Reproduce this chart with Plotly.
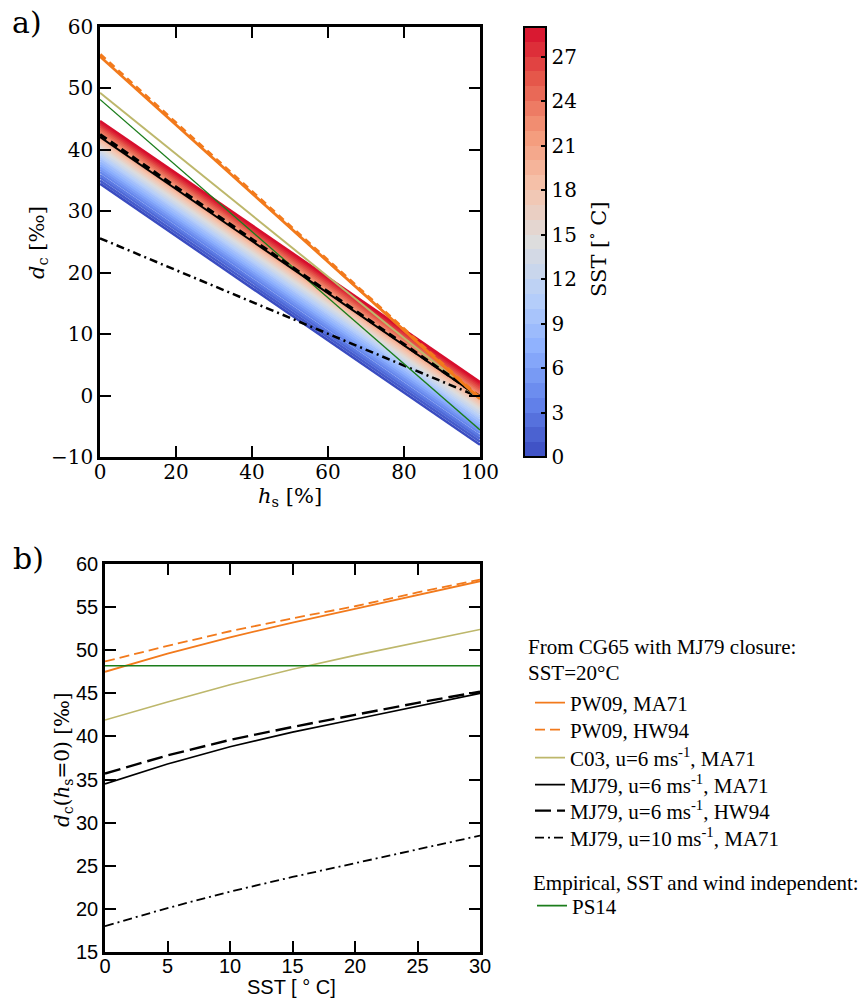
import numpy as np
import plotly.graph_objects as go
from plotly.colors import sample_colorscale

W, H = 868, 998

# ---------------- data ----------------
# panel a) : d_c vs h_s for SST levels (MJ79, u=6, MA71), endpoints at h_s = 0 and 100
sst_levels = list(range(0, 30))
band_dc_h0 = [34.5, 35.0, 35.5, 35.9, 36.4, 36.8, 37.2, 37.6, 38.0, 38.4,
              38.8, 39.1, 39.5, 39.8, 40.2, 40.5, 40.8, 41.1, 41.4, 41.7,
              42.0, 42.3, 42.6, 42.9, 43.2, 43.5, 43.8, 44.1, 44.4, 44.7]
band_dc_h100 = [-8.0, -7.5, -7.0, -6.6, -6.1, -5.7, -5.3, -4.9, -4.5, -4.1,
                -3.7, -3.4, -3.0, -2.7, -2.3, -2.0, -1.7, -1.4, -1.1, -0.8,
                -0.5, -0.2, 0.1, 0.4, 0.7, 1.0, 1.3, 1.6, 1.9, 2.2]
hs = [0, 100]
a_pw09_ma71 = [55.2, -0.5]
a_pw09_hw94 = [55.5, -0.4]
a_c03 = [49.3, -0.6]
a_ps14 = [48.2, -5.6]
a_mj79_u6_ma71 = [42.1, -0.3]
a_mj79_u6_hw94 = [42.5, -0.2]
a_mj79_u10_ma71 = [25.6, -0.3]

# panel b) : d_c(h_s=0) vs SST
sst_b = [0, 5, 10, 15, 20, 25, 30]
b_pw09_ma71 = [47.5, 49.6, 51.5, 53.2, 54.8, 56.4, 58.0]
b_pw09_hw94 = [48.7, 50.5, 52.2, 53.7, 55.1, 56.7, 58.2]
b_c03 = [41.9, 44.0, 46.0, 47.8, 49.4, 50.9, 52.4]
b_mj79_u6_ma71 = [34.5, 36.8, 38.8, 40.5, 42.0, 43.5, 45.0]
b_mj79_u6_hw94 = [35.7, 37.8, 39.6, 41.1, 42.5, 43.9, 45.2]
b_mj79_u10_ma71 = [18.0, 20.1, 22.0, 23.7, 25.3, 26.9, 28.5]
b_ps14 = [48.2, 48.2, 48.2, 48.2, 48.2, 48.2, 48.2]

cbar_ticks = [0, 3, 6, 9, 12, 15, 18, 21, 24, 27]
sst_max = 29

# ---------------- styles ----------------
anchors = [
    [0.0, "rgb(58,76,192)"], [0.125, "rgb(98,130,234)"], [0.25, "rgb(141,176,254)"],
    [0.375, "rgb(184,208,249)"], [0.5, "rgb(221,221,221)"], [0.625, "rgb(245,196,173)"],
    [0.75, "rgb(244,154,123)"], [0.875, "rgb(230,90,75)"], [1.0, "rgb(215,15,45)"],
]
nb = sst_max
band_cols = sample_colorscale(anchors, [(i + 0.5) / nb for i in range(nb)])
disc_scale = []
for i, c in enumerate(band_cols):
    disc_scale.append([i / nb, c])
    disc_scale.append([(i + 1) / nb, c])

ORANGE = "#f27a1c"
TAN = "#bdb76b"
GREEN = "#1b7d1b"
SERIF = "DejaVu Serif"
LSERIF = "Liberation Serif"
SANS = "Liberation Sans"

fig = go.Figure()

# band lines in a)
line_cols = sample_colorscale(anchors, [s / sst_max for s in sst_levels])
for s, y0, y1, c in zip(sst_levels, band_dc_h0, band_dc_h100, line_cols):
    fig.add_trace(go.Scatter(x=hs, y=[y0, y1], mode="lines", line=dict(color=c, width=2.6),
                             showlegend=False, hoverinfo="skip", xaxis="x", yaxis="y"))

def add_a(y, color, width, dash="solid"):
    fig.add_trace(go.Scatter(x=hs, y=y, mode="lines", line=dict(color=color, width=width, dash=dash),
                             showlegend=False, xaxis="x", yaxis="y"))

add_a(a_mj79_u10_ma71, "black", 2.5, "8px,4px,2px,4px")
add_a(a_ps14, GREEN, 1.3)
add_a(a_c03, TAN, 2.0)
add_a(a_mj79_u6_ma71, "black", 2.0)
add_a(a_mj79_u6_hw94, "black", 3.2, "8px,5px")
add_a(a_pw09_ma71, ORANGE, 2.8)
add_a(a_pw09_hw94, ORANGE, 3.6, "7px,5px")

# colorbar dummy
fig.add_trace(go.Scatter(
    x=[None], y=[None], mode="markers", showlegend=False, xaxis="x", yaxis="y",
    marker=dict(color=[0], cmin=0, cmax=sst_max, colorscale=disc_scale, showscale=True,
                colorbar=dict(x=524 / W, xanchor="left", xpad=0, ypad=0,
                              y=(H - 457) / H, yanchor="bottom", len=430 / H, lenmode="fraction",
                              thickness=22, thicknessmode="pixels",
                              outlinewidth=2, outlinecolor="black",
                              tickvals=cbar_ticks, ticks="inside", ticklen=6, tickwidth=2,
                              tickcolor="black",
                              tickfont=dict(family=SERIF, size=20, color="black"))),
))

# panel b) -- each entry gets its own legend so its row can be placed exactly
legend_rows = []

def add_b(y, name, color, width, dash, ypix, xpix=530):
    k = len(legend_rows) + 1
    lname = "legend" if k == 1 else f"legend{k}"
    legend_rows.append((lname, ypix, xpix))
    fig.add_trace(go.Scatter(x=sst_b, y=y, mode="lines", name=name,
                             line=dict(color=color, width=width, dash=dash),
                             xaxis="x2", yaxis="y2", legend=lname))

add_b(b_pw09_ma71, "PW09, MA71", ORANGE, 1.8, "solid", 703)
add_b(b_pw09_hw94, "PW09, HW94", ORANGE, 1.8, "10px,5px", 730)
add_b(b_c03, "C03, u=6 ms<sup>-1</sup>, MA71", TAN, 1.6, "solid", 758)
add_b(b_mj79_u6_ma71, "MJ79, u=6 ms<sup>-1</sup>, MA71", "black", 1.6, "solid", 785)
add_b(b_mj79_u6_hw94, "MJ79, u=6 ms<sup>-1</sup>, HW94", "black", 2.4, "16px,6px", 811)
add_b(b_mj79_u10_ma71, "MJ79, u=10 ms<sup>-1</sup>, MA71", "black", 1.8, "9px,4px,2px,4px", 838)
add_b(b_ps14, "PS14", GREEN, 1.6, "solid", 906, 532)

axis_common = dict(showline=True, linewidth=2.5, linecolor="black", mirror="ticks",
                   ticks="inside", ticklen=11, tickwidth=2.2, tickcolor="black",
                   showgrid=False, zeroline=False, automargin=False)

layout = dict(
    width=W, height=H, margin=dict(l=0, r=0, t=0, b=0),
    paper_bgcolor="white", plot_bgcolor="white",
    xaxis=dict(domain=[100 / W, 480 / W], range=[0, 100], tickvals=[0, 20, 40, 60, 80, 100],
               anchor="y", ticklabelstandoff=-5,
               tickfont=dict(family=SERIF, size=20, color="black"), **axis_common),
    yaxis=dict(domain=[(H - 457) / H, (H - 27) / H], range=[-10, 60], tickvals=list(range(-10, 61, 10)),
               anchor="x", tickfont=dict(family=SERIF, size=20, color="black"), **axis_common),
    xaxis2=dict(domain=[105 / W, 480 / W], range=[0, 30], tickvals=list(range(0, 31, 5)),
                anchor="y2", ticklabelstandoff=-6,
                tickfont=dict(family=SANS, size=20, color="black"), **axis_common),
    yaxis2=dict(domain=[(H - 952) / H, (H - 564) / H], range=[15, 60], tickvals=list(range(15, 61, 5)),
                anchor="x2", tickfont=dict(family=SANS, size=20, color="black"), **axis_common),
)
for lname, ypix, xpix in legend_rows:
    layout[lname] = dict(x=xpix / W, y=(H - ypix) / H, xanchor="left", yanchor="middle",
                         bgcolor="rgba(0,0,0,0)", borderwidth=0, itemwidth=30,
                         font=dict(family=LSERIF, size=21, color="black"))
fig.update_layout(**layout)

def ann(text, x, y, size, family=SERIF, angle=0, xanchor="center"):
    fig.add_annotation(text=text, x=x / W, y=(H - y) / H, xref="paper", yref="paper",
                       xanchor=xanchor, yanchor="middle", showarrow=False, textangle=angle,
                       font=dict(family=family, size=size, color="black"))

ann("a)", 27, 22, 30)
ann("b)", 28, 558, 30)
ann("<i>h</i><sub>s</sub> [%]", 290, 497, 21)
ann("<i>d</i><sub>c</sub> [‰]", 38, 243, 21, angle=-90)
ann("SST [ ° C]", 291, 987, 20, family=SANS)
ann("<i>d</i><sub>c</sub>(<i>h</i><sub>s</sub>=0) [‰]", 63, 760, 20, angle=-90)
ann("SST [<sup>∘</sup> C]", 597, 250, 21, angle=-90)
ann("From CG65 with MJ79 closure:", 526, 647, 21, family=LSERIF, xanchor="left")
ann("SST=20°C", 526, 673, 21, family=LSERIF, xanchor="left")
ann("Empirical, SST and wind independent:", 531, 883, 21, family=LSERIF, xanchor="left")

fig.write_html("out.html", config={"displayModeBar": False},
               post_script="document.body.style.margin='0px';document.body.style.overflow='hidden';")
